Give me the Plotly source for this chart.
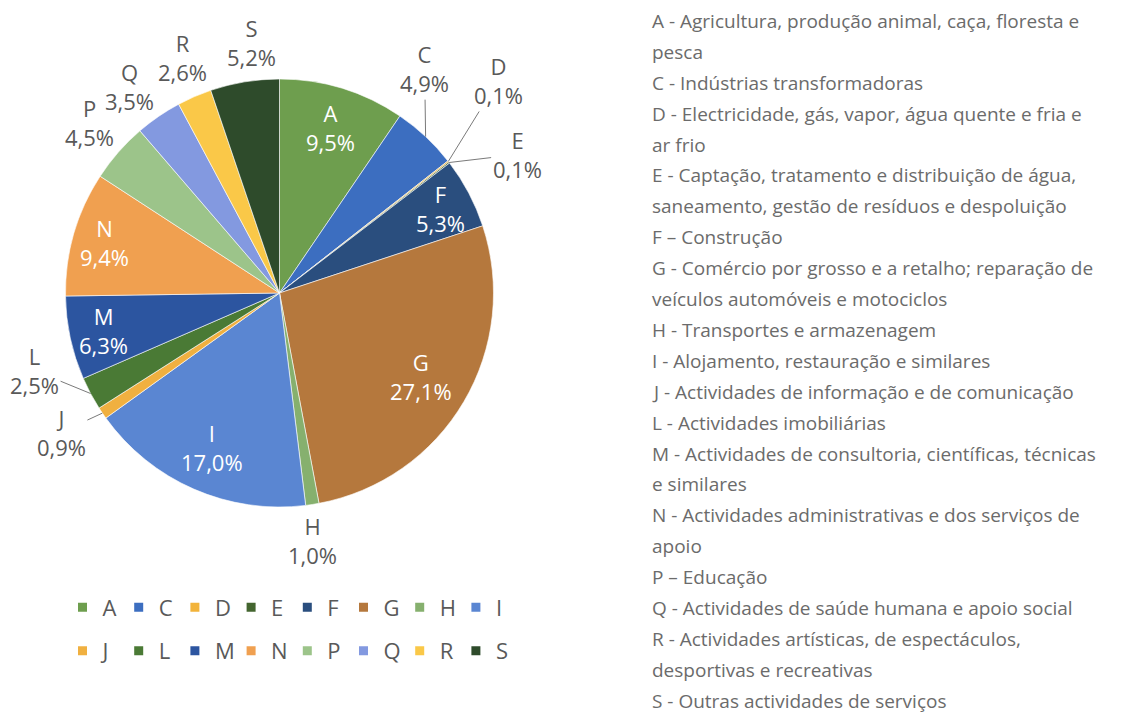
import numpy as np
import plotly.graph_objects as go

# Sectores de actividade (CAE) e peso em %
categorias = ['A', 'C', 'D', 'E', 'F', 'G', 'H', 'I', 'J', 'L', 'M', 'N', 'P', 'Q', 'R', 'S']
valores = [9.5, 4.9, 0.1, 0.1, 5.3, 27.1, 1.0, 17.0, 0.9, 2.5, 6.3, 9.4, 4.5, 3.5, 2.6, 5.2]
cores = ['#6E9E4E', '#3C6EC0', '#F2B33A', '#43652F', '#2A4E7E', '#B5783D', '#86B06E', '#5A86D2',
         '#F0B040', '#4A7A35', '#2C55A0', '#F0A050', '#9CC48A', '#8399E0', '#FAC848', '#2E4B2B']

# Texto explicativo à direita
descricao = [
    'A - Agricultura, produção animal, caça, floresta e',
    'pesca',
    'C - Indústrias transformadoras',
    'D - Electricidade, gás, vapor, água quente e fria e',
    'ar frio',
    'E - Captação, tratamento e distribuição de água,',
    'saneamento, gestão de resíduos e despoluição',
    'F – Construção',
    'G - Comércio por grosso e a retalho; reparação de',
    'veículos automóveis e motociclos',
    'H - Transportes e armazenagem',
    'I - Alojamento, restauração e similares',
    'J - Actividades de informação e de comunicação',
    'L - Actividades imobiliárias',
    'M - Actividades de consultoria, científicas, técnicas',
    'e similares',
    'N - Actividades administrativas e dos serviços de',
    'apoio',
    'P – Educação',
    'Q - Actividades de saúde humana e apoio social',
    'R - Actividades artísticas, de espectáculos,',
    'desportivas e recreativas',
    'S - Outras actividades de serviços',
]

# rótulos dentro: fracção do raio
rotulo_dentro = {'A': 0.81, 'F': 0.85, 'G': 0.77, 'I': 0.79, 'M': 0.84, 'N': 0.85}
# rótulos fora: desvio (px) a partir do bordo da fatia, e se leva linha de chamada
rotulo_fora = {
    'C': (-1, -68, True), 'D': (50, -81, True), 'E': (68, -8, True),
    'H': (0, 36, False), 'J': (-41, 19, True), 'L': (-56, -23, True),
    'P': (-29, -30, False), 'Q': (-29, -30, False), 'R': (-12, -39, False),
    'S': (7, -39, False),
}

FONTE = 'Open Sans'
OFF = 8  # margem da página à volta da figura
W, H = 1130 - OFF, 714 - OFF
CX, CY, R = 279.5, 293, 214


def fx(x):
    return (x - OFF) / W


def fy(y):
    return 1 - (y - OFF) / H


fig = go.Figure()

fig.add_trace(go.Pie(
    labels=categorias, values=valores, sort=False, direction='clockwise', rotation=0,
    marker=dict(colors=cores, line=dict(color='white', width=0.6)),
    textinfo='none', showlegend=False, hoverinfo='label+percent',
    domain=dict(x=[fx(CX - R), fx(CX + R)], y=[fy(CY + R), fy(CY - R)]),
))

# legenda em duas filas de 8
for i, (cat, cor) in enumerate(zip(categorias, cores)):
    fig.add_trace(go.Scatter(
        x=[None], y=[None], mode='markers', name=cat,
        marker=dict(symbol='square', size=9, color=cor),
        legend='legend' if i < 8 else 'legend2', hoverinfo='skip'))

leg = dict(orientation='h', xanchor='left', yanchor='middle', entrywidth=11.2,
           font=dict(size=22, color='#595959', family=FONTE), bgcolor='rgba(0,0,0,0)')

anots = []

# rótulos das fatias, a partir do ângulo médio de cada fatia
v = np.array(valores)
meio = (np.cumsum(v) - v / 2) / v.sum() * 2 * np.pi
for cat, val, ang in zip(categorias, valores, meio):
    txt = f"{cat}<br>{val:.1f}%".replace('.', ',')
    sx, sy = np.sin(ang), -np.cos(ang)
    if cat in rotulo_dentro:
        k = rotulo_dentro[cat] * R
        anots.append(dict(text=txt, x=fx(CX + sx * k), y=fy(CY + sy * k),
                          xanchor='center', yanchor='middle', showarrow=False,
                          font=dict(size=22, color='white', family=FONTE)))
    else:
        dx, dy, linha = rotulo_fora[cat]
        base = dict(text=txt, x=fx(CX + sx * R), y=fy(CY + sy * R),
                    font=dict(size=22, color='#595959', family=FONTE))
        if linha:
            base.update(showarrow=True, ax=dx, ay=dy, arrowhead=0, arrowwidth=1,
                        arrowcolor='#7a7a7a', standoff=0)
        else:
            base.update(showarrow=False, xanchor='center', yanchor='middle',
                        xshift=dx, yshift=-dy)
        anots.append(base)

for i, linha in enumerate(descricao):
    anots.append(dict(
        text=linha, x=fx(651), y=fy(21 + 30.9 * i),
        xanchor='left', yanchor='middle', showarrow=False, borderpad=0,
        font=dict(size=19, color='#6b6b6b', family=FONTE)))

for a in anots:
    a.update(xref='paper', yref='paper')

fig.update_layout(
    width=W, height=H,
    margin=dict(l=0, r=0, t=0, b=0),
    paper_bgcolor='white', plot_bgcolor='white',
    xaxis=dict(visible=False), yaxis=dict(visible=False),
    legend=dict(leg, x=fx(62.5), y=fy(607.5)),
    legend2=dict(leg, x=fx(62.5), y=fy(651)),
    annotations=anots,
    font=dict(family=FONTE),
)

fig.write_html('out.html')
